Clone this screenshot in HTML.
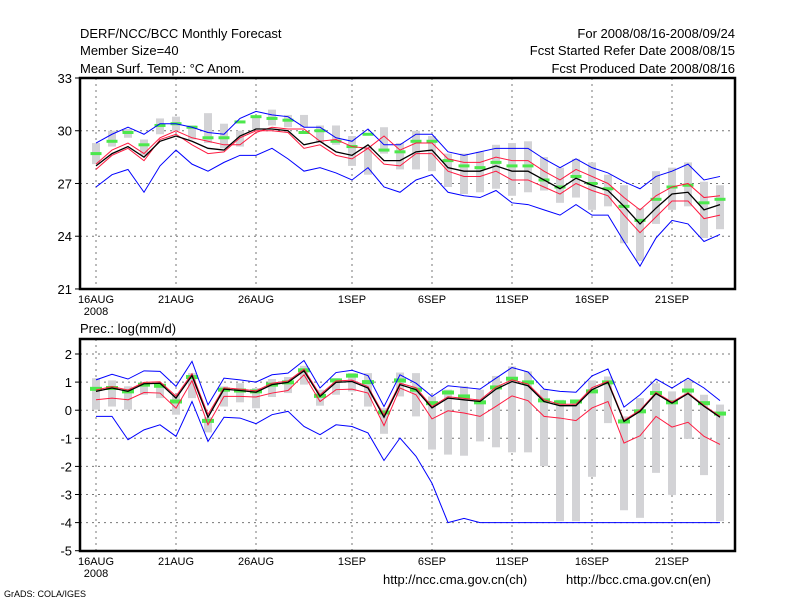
<!DOCTYPE html>
<html><head><meta charset="utf-8"><style>
body{margin:0;background:#fff;}
svg{display:block;font-family:"Liberation Sans",sans-serif;}
</style></head><body>
<svg id="c" width="800" height="600" viewBox="0 0 800 600">
<g font-size="13" fill="#000">
<text x="80" y="38">DERF/NCC/BCC Monthly Forecast</text>
<text x="80" y="55">Member Size=40</text>
<text x="80" y="73">Mean Surf. Temp.: °C Anom.</text>
<text x="735" y="38" text-anchor="end">For 2008/08/16-2008/09/24</text>
<text x="735" y="55" text-anchor="end">Fcst Started Refer Date 2008/08/15</text>
<text x="735" y="73" text-anchor="end">Fcst Produced Date 2008/08/16</text>
<text x="80" y="333">Prec.: log(mm/d)</text>
<text x="383" y="584">http://ncc.cma.gov.cn(ch)</text>
<text x="566" y="584">http://bcc.cma.gov.cn(en)</text>
<text x="4" y="597" font-size="9">GrADS: COLA/IGES</text>
</g>
</svg>
<script>
// ---- data ----
const xTickLabels = ["16AUG","21AUG","26AUG","1SEP","6SEP","11SEP","16SEP","21SEP"];
const xTickDays = [0,5,10,16,21,26,31,36];
const tTicks = [21,24,27,30,33];
const pTicks = [-5,-4,-3,-2,-1,0,1,2];

const tBlueHi = [29.3,29.8,30.2,29.8,30.4,30.4,30.2,29.9,29.8,30.7,31.1,30.9,30.8,30.2,30.2,29.6,29.4,30.1,29.2,29.2,29.8,29.8,28.8,28.6,28.8,29.0,29.0,29.0,28.4,27.9,28.4,27.9,27.6,27.1,26.7,27.4,27.7,28.1,27.2,27.4];
const tRedHi = [28.1,28.9,29.3,28.7,29.6,30.0,29.6,29.4,29.2,29.2,29.9,30.2,30.1,30.1,29.4,29.5,29.1,29.0,29.7,28.9,29.3,29.3,28.4,28.2,28.2,28.5,28.3,28.3,27.7,27.2,27.8,27.4,27.0,26.2,25.5,26.3,26.8,27.0,26.2,26.3];
const tMean = [28.0,28.7,29.1,28.5,29.4,29.7,29.4,29.0,28.9,29.7,30.1,30.1,30.0,29.2,29.4,28.8,28.6,29.2,28.3,28.3,28.8,28.9,27.9,27.7,27.7,28.0,27.7,27.7,27.2,26.7,27.3,26.9,26.6,25.7,24.7,25.6,26.4,26.5,25.5,25.8];
const tRedLo = [27.8,28.6,29.0,28.3,29.5,29.8,29.2,28.7,28.8,29.6,30.0,30.0,29.9,29.0,29.2,28.6,28.4,29.0,28.1,28.0,28.7,28.7,27.7,27.4,27.4,27.7,27.2,27.2,26.8,26.4,27.0,26.6,26.3,25.2,24.2,25.1,26.0,26.0,25.0,25.2];
const tBlueLo = [26.8,27.5,27.8,26.5,28.0,28.9,28.1,27.7,28.2,28.6,28.6,29.0,28.4,27.7,27.9,27.6,27.2,27.9,26.8,26.5,27.2,27.5,26.5,26.3,26.2,26.6,25.9,25.8,25.5,25.2,25.8,25.2,25.2,23.7,22.3,23.9,24.9,24.7,23.7,24.1];
const tGreen = [28.7,29.4,29.9,29.2,30.3,30.4,30.2,29.6,29.6,30.5,30.8,30.7,30.6,29.9,30.0,29.4,29.1,29.8,28.9,28.8,29.4,29.4,28.3,28.0,27.9,28.2,28.0,28.0,27.2,26.8,27.4,27.0,26.7,25.7,24.9,26.1,26.8,26.9,25.9,26.1];
const tBarHi = [29.3,30.0,30.1,29.5,30.7,30.8,30.3,31.0,30.4,30.0,30.8,31.2,30.9,30.9,30.3,30.3,29.7,29.1,30.2,29.3,30.0,29.7,28.7,28.7,28.8,29.2,29.3,29.4,28.5,27.9,28.4,28.2,27.5,26.9,25.6,27.7,27.9,28.2,27.1,26.9];
const tBarLo = [28.1,29.1,29.6,28.6,29.8,30.0,29.5,29.3,29.0,29.1,30.1,30.3,30.2,30.2,29.3,29.2,28.0,27.5,28.7,27.8,27.8,27.7,26.8,26.4,26.5,26.7,26.3,26.5,26.6,25.9,26.2,25.5,25.7,23.6,22.6,24.7,25.5,25.7,23.9,24.4];

const pBlueHi = [1.08,1.28,1.11,1.40,1.38,0.85,1.74,0.19,1.14,1.08,1.00,1.26,1.32,1.77,0.79,1.34,1.42,1.23,0.13,1.26,0.96,0.49,0.87,0.81,0.75,1.14,1.52,1.36,0.75,0.67,0.64,1.22,1.47,0.11,0.55,1.11,0.79,1.14,0.79,0.34];
const pMean = [0.67,0.79,0.67,0.94,0.96,0.43,1.23,-0.25,0.75,0.70,0.64,0.91,0.99,1.40,0.49,0.99,1.02,0.79,-0.25,0.91,0.73,0.08,0.43,0.37,0.31,0.75,1.02,0.87,0.31,0.16,0.16,0.73,0.99,-0.40,-0.04,0.59,0.25,0.59,0.14,-0.25];
const pRedHi = [0.72,0.84,0.72,0.99,1.01,0.50,1.30,-0.15,0.80,0.75,0.69,0.96,1.04,1.46,0.55,1.04,1.07,0.84,-0.18,0.96,0.80,0.13,0.48,0.42,0.36,0.82,1.08,0.93,0.37,0.21,0.21,0.80,1.03,-0.36,0.00,0.63,0.29,0.62,0.17,-0.22];
const pRedLo = [0.37,0.43,0.37,0.63,0.61,0.07,1.05,-0.52,0.49,0.49,0.47,0.61,0.70,1.26,0.31,0.73,0.75,0.61,-0.55,0.79,0.55,-0.31,-0.02,-0.10,-0.22,0.14,0.51,0.34,-0.22,-0.28,-0.37,0.08,0.31,-1.17,-0.91,-0.22,-0.60,-0.43,-0.93,-1.22];
const pBlueLo = [-0.22,-0.22,-1.05,-0.70,-0.52,-0.93,0.31,-1.11,-0.25,-0.28,-0.48,-0.16,-0.04,-0.58,-0.87,-0.52,-0.58,-0.81,-1.79,-0.99,-1.64,-2.60,-4.00,-3.85,-4.00,-4.00,-4.00,-4.00,-4.00,-4.00,-4.00,-4.00,-4.00,-4.00,-4.00,-4.00,-4.00,-4.00,-4.00,-4.00];
const pGreen = [0.76,0.79,0.67,0.91,0.87,0.31,1.18,-0.38,0.73,0.70,0.67,0.91,0.99,1.42,0.51,1.06,1.23,1.00,-0.08,1.06,0.73,0.25,0.63,0.49,0.28,0.81,1.12,0.99,0.35,0.28,0.31,0.67,0.99,-0.40,-0.04,0.61,0.28,0.70,0.25,-0.12];
const pBarHi = [1.14,1.06,0.85,0.99,0.87,0.55,1.32,-0.25,0.85,0.96,0.79,1.11,1.18,1.58,0.73,1.14,1.32,1.32,0.07,1.34,1.32,0.49,0.73,0.85,0.73,1.22,1.56,1.38,0.73,0.37,0.31,1.06,1.20,-0.22,0.43,0.96,0.67,1.08,0.55,0.20];
const pBarLo = [0.02,0.13,0.02,0.55,0.43,-0.16,0.43,-0.79,0.13,0.28,0.07,0.47,0.61,0.91,0.16,0.55,0.67,0.13,-0.84,0.49,-0.22,-1.40,-1.58,-1.62,-1.11,-1.32,-1.50,-1.50,-1.99,-3.95,-3.95,-2.37,-0.46,-3.56,-3.83,-2.23,-3.02,-1.02,-2.31,-3.95];

// ---- drawing ----
const svg = document.getElementById('c');
const NS = 'http://www.w3.org/2000/svg';
const L = 80, R = 735;
const xDay = d => 96 + 16 * d;
const yT = v => 78 + (33 - v) * 17.58;
const yP = v => 354 + (2 - v) * 28.1;

function mk(tag, attrs, parent) {
  const e = document.createElementNS(NS, tag);
  for (const k in attrs) e.setAttribute(k, attrs[k]);
  (parent || svg).appendChild(e);
  return e;
}

function panel(name, top, bottom, ticks, yf, bHi, bLo, green, bHi2, rHi, mean, rLo, bLo2, gw, gh) {
  const g = mk('g', {});
  
  
  // grid
  ticks.forEach(t => {
    const y = yf(t);
    if (y > top + 1 && y < bottom - 1) {
      const ln = mk('line', {x1: L, x2: R, y1: y, y2: y, stroke: '#777', 'stroke-dasharray': '2,4', 'stroke-width': 1}, g);
      
      
    }
    const tk = mk('line', {x1: L - 5, x2: L, y1: y, y2: y, stroke: '#000', 'stroke-width': 1}, g);
    
    
    const tx = mk('text', {x: L - 8, y: y + 5, 'text-anchor': 'end', 'font-size': 13}, g);
    tx.textContent = t;
    
    
  });
  xTickDays.forEach((d, i) => {
    const ln = mk('line', {x1: xDay(d), x2: xDay(d), y1: top, y2: bottom, stroke: '#777', 'stroke-dasharray': '2,4', 'stroke-width': 1}, g);
    
    
    const tx = mk('text', {x: xDay(d), y: bottom + 14, 'text-anchor': 'middle', 'font-size': 11}, g);
    tx.textContent = xTickLabels[i];
    
    
  });
  const yr = mk('text', {x: xDay(0), y: bottom + 26, 'text-anchor': 'middle', 'font-size': 11}, g);
  yr.textContent = '2008';
  
  
  // bars
  bHi.forEach((v, i) => {
    const y1 = yf(v), y2 = yf(bLo[i]);
    const r = mk('rect', {x: xDay(i) - 4, y: y1, width: 8, height: Math.max(1, y2 - y1), fill: '#d3d3d6'}, g);
    
    
  });
  // green dashes
  green.forEach((v, i) => {
    const r = mk('rect', {x: xDay(i) - gw / 2, y: yf(v) - gh / 2, width: gw, height: gh, fill: '#4ce84c'}, g);
    
    
  });
  const line = (arr, col, w, nm) => {
    const p = mk('polyline', {points: arr.map((v, i) => xDay(i) + ',' + yf(v)).join(' '), fill: 'none', stroke: col, 'stroke-width': w}, g);
    
    
  };
  line(bHi2, '#0000ff', 1, 'max-line');
  line(bLo2, '#0000ff', 1, 'min-line');
  line(rHi, '#ff1a40', 1, 'upper-red-line');
  line(rLo, '#ff1a40', 1, 'lower-red-line');
  line(mean, '#000', 1.3, 'mean-line');
  const box = mk('rect', {x: L, y: top, width: R - L, height: bottom - top, fill: 'none', stroke: '#000', 'stroke-width': 2.5}, g);
  
  
}

panel('temperature-panel', 78, 289, tTicks, yT, tBarHi, tBarLo, tGreen, tBlueHi, tRedHi, tMean, tRedLo, tBlueLo, 11, 3);
panel('precipitation-panel', 339, 551, pTicks, yP, pBarHi, pBarLo, pGreen, pBlueHi, pRedHi, pMean, pRedLo, pBlueLo, 12, 4);
</script>
</body></html>
